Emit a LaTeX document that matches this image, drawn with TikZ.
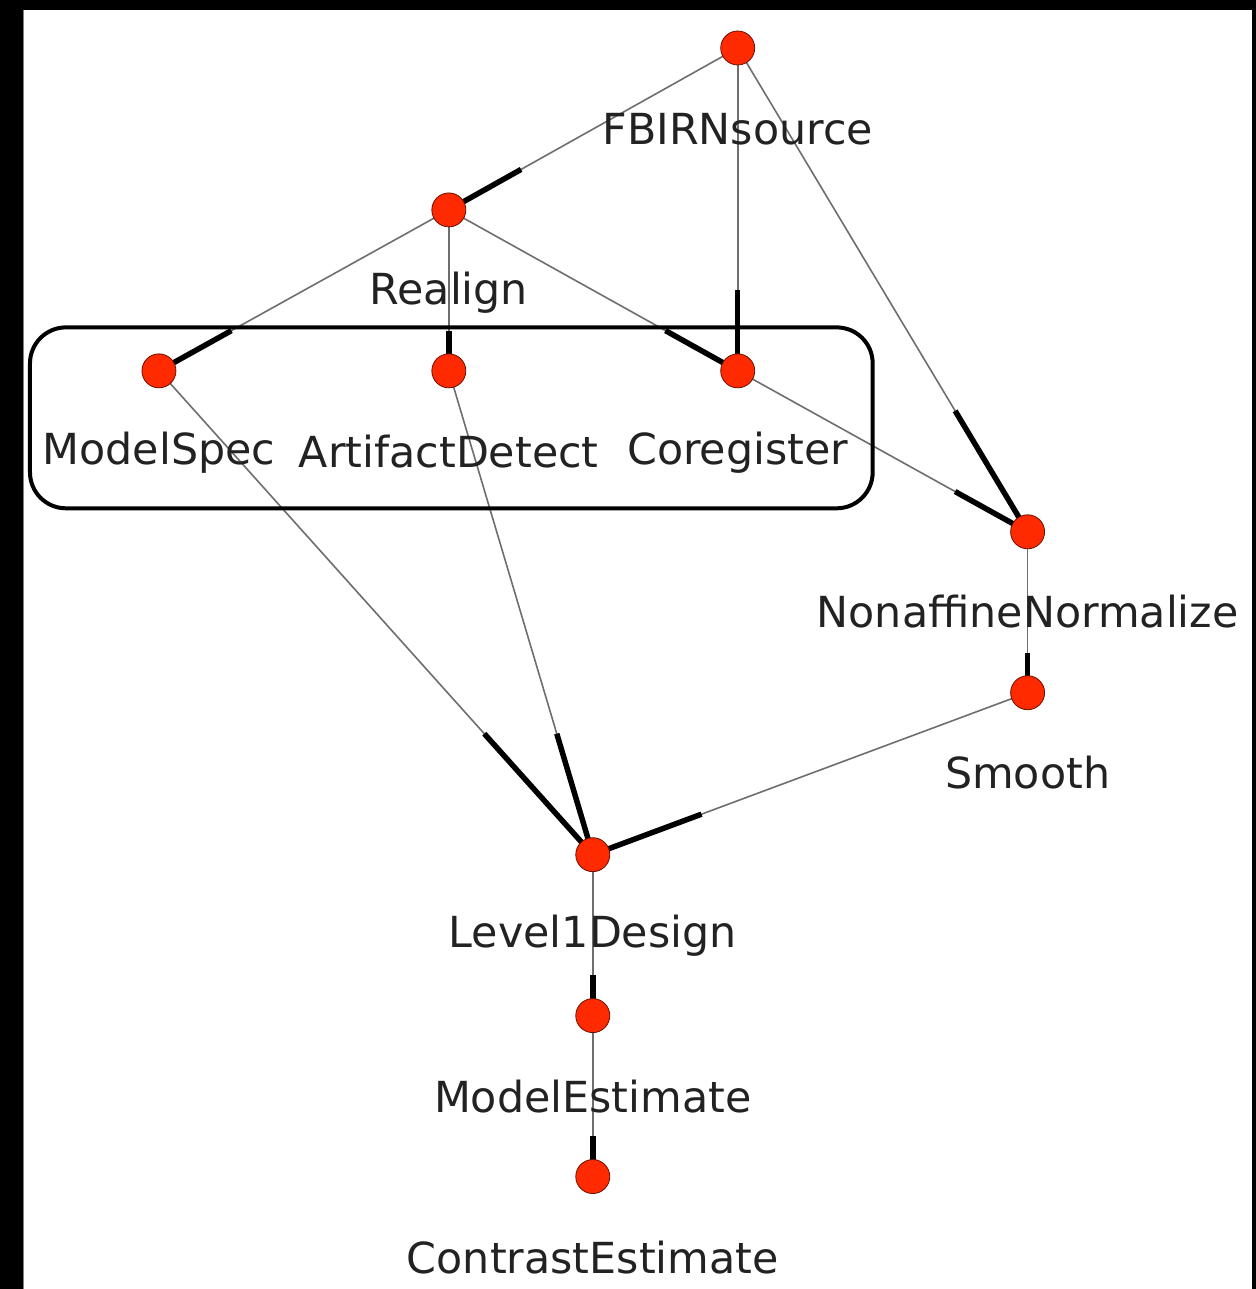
\documentclass[tikz,border=0pt]{standalone}
\usepackage{fontspec}
\setmainfont{DejaVu Sans}
\usetikzlibrary{calc}
\definecolor{nodered}{HTML}{FF2A00}
\definecolor{nodeedge}{HTML}{6A1000}
\definecolor{txt}{HTML}{222222}
\definecolor{thin}{HTML}{6E6E6E}
\tikzset{
  vert/.style={circle,fill=nodered,draw=nodeedge,line width=0.8pt,minimum size=34pt,inner sep=0pt},
  lbl/.style={anchor=base,text=txt,inner sep=0pt,font=\fontsize{42.8}{50}\selectfont},
  thinedge/.style={draw=thin,line width=1.6pt},
  thickedge/.style={draw=black,line width=5.5pt},
  grp/.style={draw=black,line width=4pt,rounded corners=36pt}
}
\newcommand{\nxedge}[2]{%
  \draw[thinedge] (#1.center) -- (#2.center);
  \draw[thickedge] ($(#2.center)!0.25!(#1.center)$) -- (#2.center);
}
\begin{document}
\begin{tikzpicture}[x=1pt,y=-1pt]
\fill[black] (0,0) rectangle (1256,1289);
\fill[white] (23,10) rectangle (1252,1289);
\draw[gray,line width=1pt] (23.5,10) -- (23.5,1289);
\useasboundingbox (0,0) rectangle (1256,1289);
% coordinates of vertices
\coordinate (FBIRNsource) at (738,48);
\coordinate (Realign) at (449,210);
\coordinate (ModelSpec) at (159,371);
\coordinate (ArtifactDetect) at (449,371);
\coordinate (Coregister) at (738,371);
\coordinate (NonaffineNormalize) at (1028,532);
\coordinate (Smooth) at (1028,693);
\coordinate (Level1Design) at (593,855);
\coordinate (ModelEstimate) at (593,1016);
\coordinate (ContrastEstimate) at (593,1177);
% edges
\nxedge{FBIRNsource}{Realign}
\nxedge{FBIRNsource}{Coregister}
\nxedge{FBIRNsource}{NonaffineNormalize}
\nxedge{Realign}{ModelSpec}
\nxedge{Realign}{ArtifactDetect}
\nxedge{Realign}{Coregister}
\nxedge{Coregister}{NonaffineNormalize}
\nxedge{ModelSpec}{Level1Design}
\nxedge{ArtifactDetect}{Level1Design}
\nxedge{Smooth}{Level1Design}
\nxedge{NonaffineNormalize}{Smooth}
\nxedge{Level1Design}{ModelEstimate}
\nxedge{ModelEstimate}{ContrastEstimate}
% group box
\node[grp,minimum width=843pt,minimum height=181pt,inner sep=0pt] (box) at (451.5,418) {};
% vertices
\foreach \v in {FBIRNsource,Realign,ModelSpec,ArtifactDetect,Coregister,NonaffineNormalize,Smooth,Level1Design,ModelEstimate,ContrastEstimate}{
  \node[vert] (n\v) at (\v) {};
}
% labels
\node[lbl] (lFBIRNsource) at ($(FBIRNsource)+(0,97)$) {FBIRNsource};
\node[lbl] (lRealign) at ($(Realign)+(0,95)$) {Realign};
\node[lbl] (lModelSpec) at ($(ModelSpec)+(0,94)$) {ModelSpec};
\node[lbl] (lArtifactDetect) at ($(ArtifactDetect)+(0,97)$) {ArtifactDetect};
\node[lbl] (lCoregister) at ($(Coregister)+(0,94)$) {Coregister};
\node[lbl] (lNonaffineNormalize) at ($(NonaffineNormalize)+(0,96)$) {NonaffineNormalize};
\node[lbl] (lSmooth) at ($(Smooth)+(0,96)$) {Smooth};
\node[lbl] (lLevel1Design) at ($(Level1Design)+(0,93)$) {Level1Design};
\node[lbl] (lModelEstimate) at ($(ModelEstimate)+(0,97)$) {ModelEstimate};
\node[lbl] (lContrastEstimate) at ($(ContrastEstimate)+(0,97)$) {ContrastEstimate};
\end{tikzpicture}
\end{document}
